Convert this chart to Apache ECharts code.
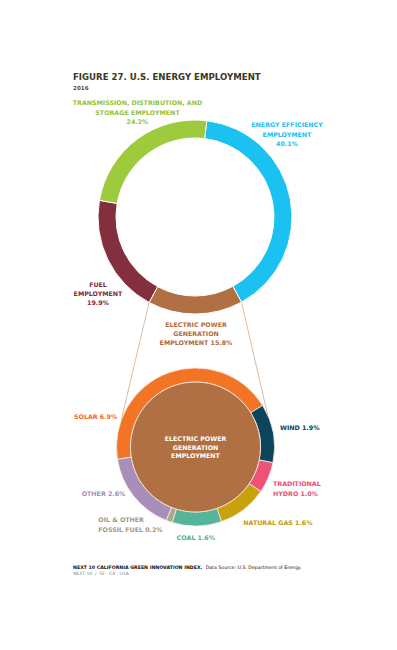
<!DOCTYPE html>
<html>
<head>
<meta charset="utf-8">
<script src="https://cdn.jsdelivr.net/npm/echarts@6/dist/echarts.min.js"></script>
<style>
html, body { margin: 0; padding: 0; background: #fff; }
#main { width: 397px; height: 650px; }
</style>
</head>
<body>
<div id="main"></div>
<script>
// top ring: U.S. energy employment share, clockwise from the top
var topNames = ['ENERGY EFFICIENCY\nEMPLOYMENT', 'ELECTRIC POWER\nGENERATION\nEMPLOYMENT', 'FUEL\nEMPLOYMENT', 'TRANSMISSION, DISTRIBUTION, AND\nSTORAGE EMPLOYMENT'];
var topValues = [40.1, 15.8, 19.9, 24.2];
var topColors = ['#1bc1f1', '#b07044', '#842f3e', '#9dcb3c'];
var topLabelColors = ['#1bbef0', '#b0683a', '#7c2a3a', '#95c23a'];

// lower ring: split of electric power generation
var subNames = ['SOLAR', 'WIND', 'TRADITIONAL\nHYDRO', 'NATURAL GAS', 'COAL', 'OIL & OTHER\nFOSSIL FUEL', 'OTHER'];
var subValues = [6.9, 1.9, 1.0, 1.6, 1.6, 0.2, 2.6];
var subColors = ['#f37425', '#0c445c', '#ef5276', '#c9a10d', '#55b59b', '#a9a78f', '#a88fb9'];
var subLabelColors = ['#f06c1e', '#0c4058', '#ec4d70', '#c09a0a', '#4fae93', '#9c9a82', '#a48cb5'];

// label anchors (x, y of first line)
var topLabelPos = [[287, 125], [196, 324.3], [98, 284.2], [137.5, 103]];
var subLabelPos = [[74, 416.7], [280, 428], [273, 484], [243.3, 522.3], [176.7, 537.3], [98.3, 520], [81.7, 493.3]];

var C1 = [195, 217], R1 = [79, 97], START1 = 83;
var C2 = [195.5, 447], R2 = [65, 79], START2 = 189;
var LH = 9.3;
var FS = 6.3;
var FONT = '"DejaVu Sans", sans-serif';

var myChart = echarts.init(document.getElementById('main'), null, {renderer: 'svg'});

function pt(c, r, deg) { // deg clockwise from top
    var a = deg * Math.PI / 180;
    return [c[0] + r * Math.sin(a), c[1] - r * Math.cos(a)];
}
var total1 = topValues.reduce(function (a, b) { return a + b; }, 0);
var brownFrom = (90 - START1) + 360 * topValues[0] / total1;
var brownTo = brownFrom + 360 * topValues[1] / total1;
var pL1 = pt(C1, R1[1], brownTo), pR1 = pt(C1, R1[1], brownFrom);
var pL2 = pt(C2, R2[1], 290), pR2 = pt(C2, R2[1], 66);

var option = {
    backgroundColor: '#fff',
    animation: false,
    title: {
        text: 'FIGURE 27. U.S. ENERGY EMPLOYMENT',
        subtext: '2016',
        left: 73,
        top: 72,
        padding: 0,
        itemGap: 4,
        textStyle: {fontFamily: FONT, fontSize: 8.6, fontWeight: 'bold', color: '#3b391b'},
        subtextStyle: {fontFamily: FONT, fontSize: 5.6, fontWeight: 'bold', color: '#55533a'}
    },
    graphic: [
        {type: 'line', z: 0, shape: {x1: pL1[0], y1: pL1[1], x2: pL2[0], y2: pL2[1]}, style: {stroke: '#d0a887', lineWidth: 0.8}},
        {type: 'line', z: 0, shape: {x1: pR1[0], y1: pR1[1], x2: pR2[0], y2: pR2[1]}, style: {stroke: '#d0a887', lineWidth: 0.8}},
        {
            type: 'text', left: 73, top: 561.5,
            style: {
                text: '{b|NEXT 10 CALIFORNIA GREEN INNOVATION INDEX.} {n|Data Source: U.S. Department of Energy.}',
                rich: {
                    b: {fontFamily: FONT, fontSize: 4.7, fontWeight: 'bold', fill: '#111'},
                    n: {fontFamily: FONT, fontSize: 4.7, fill: '#111'}
                }
            }
        },
        {
            type: 'text', left: 73, top: 570.5,
            style: {text: 'NEXT 10  /  SF · CA · USA', font: '4.5px ' + FONT, fill: '#888'}
        }
    ],
    series: [
        {
            type: 'pie',
            center: C1,
            radius: R1,
            startAngle: START1,
            clockwise: true,
            avoidLabelOverlap: false,
            itemStyle: {borderColor: '#fff', borderWidth: 1},
            label: {
                show: true,
                fontFamily: FONT,
                fontSize: FS,
                fontWeight: 'bold',
                lineHeight: LH,
                formatter: function (p) {
                    return p.name + (p.dataIndex === 1 ? ' ' : '\n') + p.value.toFixed(1) + '%';
                }
            },
            labelLine: {show: false},
            labelLayout: function (p) {
                var q = topLabelPos[p.dataIndex];
                return {x: q[0], y: q[1] - LH / 2, align: 'center', verticalAlign: 'top'};
            },
            emphasis: {disabled: true},
            data: topNames.map(function (n, i) {
                return {name: n, value: topValues[i], itemStyle: {color: topColors[i]}, label: {color: topLabelColors[i]}};
            })
        },
        {
            type: 'pie',
            center: C2,
            radius: R2,
            startAngle: START2,
            clockwise: true,
            avoidLabelOverlap: false,
            itemStyle: {borderColor: '#f6ece2', borderWidth: 0.8},
            label: {
                show: true,
                fontFamily: FONT,
                fontSize: FS,
                fontWeight: 'bold',
                lineHeight: LH,
                formatter: function (p) {
                    return p.name + ' ' + p.value.toFixed(1) + '%';
                }
            },
            labelLine: {show: false},
            labelLayout: function (p) {
                var q = subLabelPos[p.dataIndex];
                return {x: q[0], y: q[1] - LH / 2, align: 'left', verticalAlign: 'top'};
            },
            emphasis: {disabled: true},
            data: subNames.map(function (n, i) {
                return {name: n, value: subValues[i], itemStyle: {color: subColors[i]}, label: {color: subLabelColors[i]}};
            })
        },
        {
            type: 'pie',
            center: C2,
            radius: [0, R2[0]],
            silent: true,
            itemStyle: {color: topColors[1], borderColor: '#f3e2d0', borderWidth: 1},
            label: {
                show: true,
                position: 'center',
                color: '#fff',
                fontFamily: FONT,
                fontSize: FS,
                fontWeight: 'bold',
                lineHeight: 8.5,
                formatter: '{b}'
            },
            emphasis: {disabled: true},
            data: [{name: topNames[1], value: topValues[1]}]
        }
    ]
};
myChart.setOption(option);
</script>
</body>
</html>
